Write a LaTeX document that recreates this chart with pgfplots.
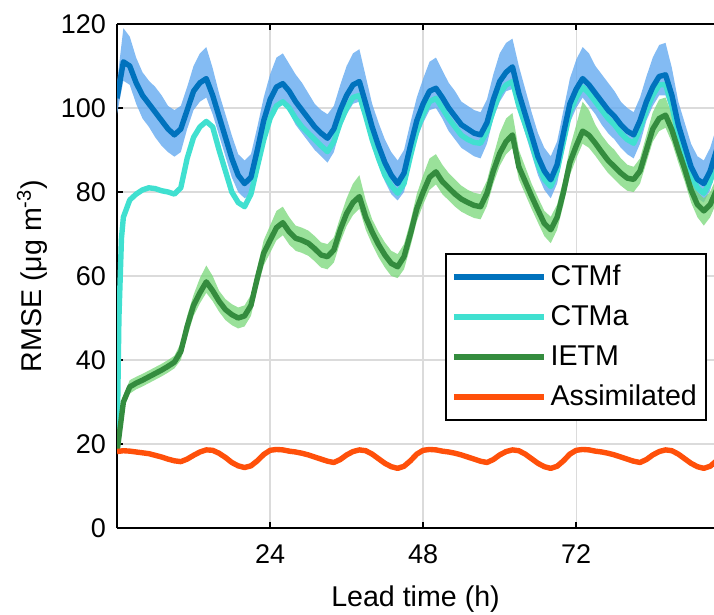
\documentclass[border=0pt]{standalone}
\usepackage{fontspec}
\setmainfont{Liberation Sans}
\usepackage{pgfplots}
\pgfplotsset{compat=1.18}
\usepackage{pgfplotstable}
\usepgfplotslibrary{fillbetween}

\definecolor{ctmf}{RGB}{0,114,189}
\definecolor{ctmfband}{RGB}{100,170,240}
\definecolor{ctma}{RGB}{64,224,208}
\definecolor{ietm}{RGB}{52,140,62}
\definecolor{ietmband}{RGB}{120,215,120}
\definecolor{assim}{RGB}{255,80,10}

% CTMf: mean and spread
\pgfplotstableread{
h f lo hi
0 102.3 98.5 106.0
1 111.0 106.5 119.0
2 110.0 105.5 117.0
3 106.0 101.0 112.0
4 103.0 97.5 108.5
5 101.0 95.5 106.5
6 99.0 93.0 105.0
7 97.0 91.0 103.0
8 95.0 89.5 100.5
9 93.6 88.4 99.5
10 95.0 89.5 100.5
11 99.5 95.0 105.0
12 104.0 99.5 110.0
13 106.0 101.5 113.0
14 107.0 102.5 114.5
15 103.0 98.5 109.5
16 98.0 93.5 103.5
17 93.0 88.5 98.5
18 88.0 83.5 93.5
19 84.0 80.0 89.0
20 82.0 78.5 87.5
21 83.5 79.5 89.0
22 90.0 85.5 95.5
23 97.0 92.5 102.5
24 102.0 97.5 108.0
25 105.0 100.5 112.0
26 105.8 101.0 113.0
27 104.0 99.0 110.5
28 101.5 96.0 108.0
29 99.5 94.0 106.0
30 97.5 92.0 103.5
31 95.5 90.0 101.0
32 94.0 88.5 99.5
33 92.8 87.0 98.5
34 95.0 89.5 100.5
35 99.5 95.0 105.5
36 103.0 98.5 110.0
37 105.5 101.0 113.0
38 106.3 101.5 114.0
39 101.0 96.5 107.5
40 95.5 91.0 101.0
41 91.0 86.5 96.5
42 87.0 82.5 92.5
43 84.0 79.5 89.5
44 82.0 78.0 87.5
45 84.5 80.0 90.0
46 91.0 86.5 96.5
47 97.0 92.5 102.5
48 101.0 96.5 107.0
49 104.0 99.5 111.0
50 104.7 100.0 112.0
51 102.5 97.5 109.0
52 100.0 94.5 106.0
53 98.0 92.5 104.0
54 96.0 90.5 101.5
55 95.0 89.5 100.5
56 94.0 88.5 99.5
57 93.6 88.0 99.0
58 96.5 91.5 102.0
59 102.0 97.5 108.0
60 106.3 101.5 113.0
61 108.5 104.0 115.5
62 109.8 104.5 116.5
63 103.5 99.0 110.0
64 98.5 94.0 104.5
65 93.5 89.0 99.0
66 88.4 84.0 94.0
67 85.0 80.5 90.5
68 82.9 78.5 88.5
69 86.5 82.0 92.0
70 94.0 89.5 99.5
71 101.0 96.5 107.0
72 104.5 100.0 111.5
73 107.0 102.5 114.5
74 105.5 100.5 113.0
75 103.5 98.5 110.0
76 101.5 96.0 108.0
77 99.5 94.0 106.0
78 98.0 92.5 104.0
79 96.0 90.5 101.5
80 94.5 89.0 100.0
81 93.6 88.0 99.0
82 97.0 91.5 102.5
83 101.5 97.0 107.5
84 105.0 100.5 112.0
85 107.5 103.0 115.0
86 107.9 103.0 115.5
87 103.0 98.5 109.5
88 96.0 91.5 101.5
89 91.0 86.5 96.5
90 86.0 81.5 91.5
91 83.0 78.5 88.5
92 82.0 77.5 87.5
93 85.0 80.5 90.5
94 90.0 85.5 95.5
}\ctmf

% CTMa
\pgfplotstableread{
h a
0 18.0
0.3 50.0
0.7 69.0
1 74.0
2 78.1
3 79.5
4 80.5
5 81.0
6 80.8
7 80.3
8 80.0
9 79.5
10 81.0
11 88.0
12 93.0
13 95.5
14 96.8
15 95.5
16 90.0
17 85.0
18 80.0
19 77.5
20 76.5
21 79.5
22 86.0
23 92.4
24 97.5
25 100.5
26 101.5
27 100.0
28 97.5
29 95.5
30 94.0
31 92.5
32 91.0
33 89.6
34 92.0
35 96.5
36 100.0
37 102.5
38 103.0
39 98.0
40 92.5
41 88.0
42 84.0
43 81.5
44 79.7
45 82.0
46 88.5
47 94.5
48 98.5
49 101.5
50 102.3
51 100.0
52 97.5
53 95.5
54 93.5
55 92.5
56 91.8
57 91.6
58 94.5
59 99.5
60 103.5
61 105.5
62 106.3
63 100.5
64 96.0
65 91.5
66 86.5
67 83.0
68 81.3
69 85.0
70 92.0
71 99.0
72 102.5
73 105.0
74 103.5
75 101.5
76 99.5
77 97.5
78 96.0
79 94.0
80 92.5
81 91.6
82 95.0
83 99.5
84 103.0
85 105.5
86 105.6
87 100.5
88 93.5
89 88.5
90 84.0
91 81.0
92 79.7
93 82.5
94 87.5
}\ctma

% IETM: mean and spread
\pgfplotstableread{
h e lo hi
0 18.0 17.5 18.5
1 30.0 28.5 31.5
2 33.6 32.0 35.2
3 34.5 33.0 36.0
4 35.2 33.7 36.7
5 36.0 34.5 37.5
6 36.8 35.3 38.3
7 37.6 36.1 39.1
8 38.5 37.0 40.0
9 39.5 38.0 41.0
10 42.0 40.0 44.0
11 48.0 45.5 50.5
12 53.0 50.5 55.5
13 56.0 53.5 59.5
14 58.6 56.0 62.5
15 56.5 54.0 60.0
16 54.0 51.5 56.5
17 52.0 49.5 54.5
18 50.8 48.3 53.3
19 50.0 47.5 52.5
20 50.5 48.0 53.0
21 53.0 50.5 55.5
22 59.5 57.0 62.0
23 65.4 62.5 68.5
24 68.5 65.5 72.0
25 71.5 68.5 75.5
26 72.7 69.7 76.5
27 70.5 67.5 74.0
28 69.0 66.0 72.0
29 68.5 65.5 71.5
30 67.8 64.8 70.8
31 66.5 63.5 69.5
32 65.0 62.0 68.0
33 64.6 61.6 67.6
34 66.2 63.2 69.2
35 71.0 68.0 74.0
36 74.9 71.9 78.5
37 77.5 74.5 82.0
38 78.9 76.0 84.0
39 74.0 71.0 78.0
40 70.5 67.5 73.5
41 67.5 64.5 70.5
42 65.0 62.0 68.0
43 63.0 60.0 66.0
44 62.2 59.5 65.2
45 64.6 61.6 67.6
46 70.0 67.0 73.0
47 76.0 73.0 79.5
48 80.0 77.0 84.0
49 83.5 80.5 88.0
50 84.8 81.8 89.0
51 82.5 79.5 86.5
52 81.0 78.0 84.5
53 79.5 76.5 83.0
54 78.3 75.3 81.5
55 77.5 74.5 80.5
56 76.8 73.8 79.8
57 76.5 73.5 79.5
58 79.7 76.7 82.7
59 85.0 82.0 88.5
60 89.2 86.2 94.0
61 92.0 89.0 97.5
62 93.6 90.5 98.8
63 86.0 83.0 90.0
64 82.5 79.5 86.0
65 79.0 76.0 82.0
66 75.7 72.7 78.7
67 72.5 69.5 75.5
68 71.0 67.8 74.1
69 74.0 71.0 77.0
70 80.0 77.0 83.0
71 87.0 84.0 90.5
72 91.0 88.0 96.0
73 94.5 91.5 101.5
74 93.5 90.5 99.5
75 91.6 88.6 96.0
76 89.5 86.5 93.5
77 87.5 84.5 91.5
78 86.0 83.0 90.0
79 84.5 81.5 88.0
80 83.3 80.3 86.5
81 83.0 80.0 86.0
82 85.0 82.0 88.0
83 90.0 87.0 93.5
84 95.0 92.0 99.0
85 97.5 94.5 102.0
86 98.3 95.3 102.5
87 94.8 91.8 98.5
88 90.0 87.0 93.0
89 85.5 82.5 88.5
90 80.5 77.5 83.5
91 77.0 74.0 80.0
92 75.5 72.0 78.5
93 77.0 74.0 80.0
94 80.5 77.5 83.5
}\ietm

% Assimilated
\pgfplotstableread{
h s
0 18.2
1 18.4
2 18.3
3 18.1
4 17.9
5 17.7
6 17.3
7 16.9
8 16.4
9 16.0
10 15.8
11 16.4
12 17.3
13 18.1
14 18.6
15 18.5
16 17.8
17 16.8
18 15.6
19 14.8
20 14.4
21 14.8
22 16.0
23 17.5
24 18.5
25 18.7
26 18.6
27 18.3
28 18.1
29 17.8
30 17.4
31 16.9
32 16.4
33 15.9
34 15.6
35 16.3
36 17.4
37 18.2
38 18.6
39 18.4
40 17.6
41 16.5
42 15.4
43 14.6
44 14.2
45 14.7
46 16.0
47 17.6
48 18.5
49 18.7
50 18.6
51 18.3
52 18.1
53 17.8
54 17.4
55 16.9
56 16.4
57 15.9
58 15.6
59 16.3
60 17.4
61 18.2
62 18.6
63 18.4
64 17.6
65 16.5
66 15.4
67 14.6
68 14.2
69 14.7
70 16.0
71 17.6
72 18.5
73 18.7
74 18.6
75 18.3
76 18.1
77 17.8
78 17.4
79 16.9
80 16.4
81 15.9
82 15.6
83 16.3
84 17.4
85 18.2
86 18.6
87 18.4
88 17.6
89 16.5
90 15.4
91 14.6
92 14.2
93 14.7
94 16.0
}\assim

\begin{document}
\begin{tikzpicture}
\begin{axis}[
  scale only axis, width=298.5pt, height=252pt,
  xmin=0, xmax=93.6, ymin=0, ymax=120,
  xtick={24,48,72}, ytick={0,20,...,120},
  axis x line*=box, axis y line*=left,
  axis line style={line width=1pt, -},
  tick align=inside, major tick length=3pt,
  tick style={black, line width=0.8pt},
  grid=major, grid style={line width=0.7pt, black!14},
  ticklabel style={font=\fontsize{13.5}{16}\selectfont},
  xticklabel style={yshift=-5pt},
  yticklabel style={xshift=-2pt},
  /pgf/number format/assume math mode=true,
  label style={font=\fontsize{14.3}{17}\selectfont},
  xlabel={Lead time (h)},
  xlabel style={yshift=-4pt},
  ylabel={RMSE (μg m\textsuperscript{-3})},
  legend cell align=left,
  legend style={at={(rel axis cs:0.988,0.5456)}, anchor=north east,
    draw=black, line width=1pt, inner sep=2.5pt, row sep=2pt,
    font=\fontsize{14.3}{17}\selectfont,
    nodes={inner sep=2pt, text height=11pt, text depth=3pt}},
  legend image code/.code={\draw[#1] (0pt,0pt) -- (45pt,0pt);},
  every axis plot/.append style={line join=round},
]
\addlegendimage{ctmf, line width=2.7pt}
\addlegendentry{CTMf}
\addlegendimage{ctma, line width=2.7pt}
\addlegendentry{CTMa}
\addlegendimage{ietm, line width=2.7pt}
\addlegendentry{IETM}
\addlegendimage{assim, line width=2.7pt}
\addlegendentry{Assimilated}

\addplot[ctma, line width=2.7pt, forget plot] table[x=h, y=a] {\ctma};

\addplot[draw=none, name path=flo, forget plot] table[x=h, y=lo] {\ctmf};
\addplot[draw=none, name path=fhi, forget plot] table[x=h, y=hi] {\ctmf};
\addplot[ctmfband, fill opacity=0.8, draw=none, forget plot] fill between[of=flo and fhi];

\addplot[draw=none, name path=elo, forget plot] table[x=h, y=lo] {\ietm};
\addplot[draw=none, name path=ehi, forget plot] table[x=h, y=hi] {\ietm};
\addplot[ietmband, fill opacity=0.75, draw=none, forget plot] fill between[of=elo and ehi];

\addplot[ctmf, line width=2.7pt, forget plot] table[x=h, y=f] {\ctmf};
\addplot[ietm, line width=2.7pt, forget plot] table[x=h, y=e] {\ietm};
\addplot[assim, line width=2.7pt, forget plot] table[x=h, y=s] {\assim};
\end{axis}
\pgfresetboundingbox
\path ([shift={(-58.5pt,-43pt)}]current axis.south west) rectangle ([shift={(0pt,12pt)}]current axis.north east);
\end{tikzpicture}
\end{document}
